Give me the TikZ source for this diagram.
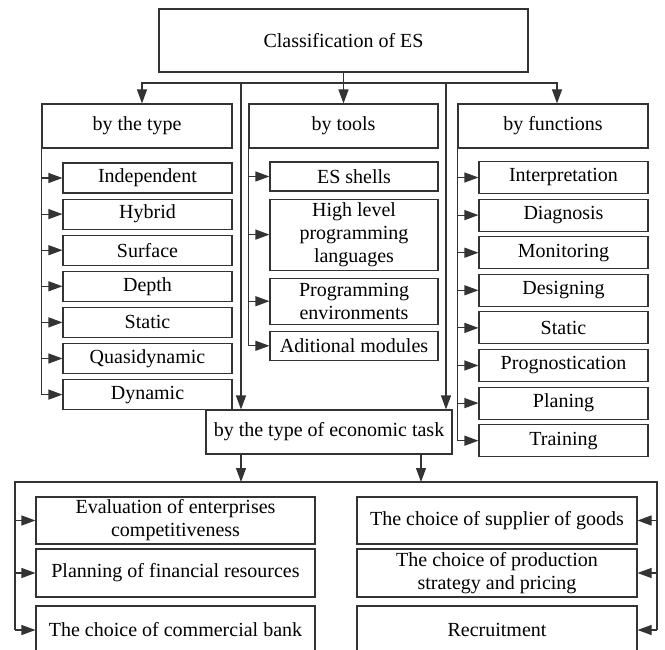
\documentclass[tikz,border=0pt]{standalone}
\usepackage{fontspec}
\setmainfont{Liberation Serif}
\usetikzlibrary{positioning,arrows.meta}
\tikzstyle{box} = [
	rectangle,
	draw = black!80,
	line width = 1.1pt,
	inner sep = 0pt,
	align = center,
	font = \fontsize{20}{23}\selectfont
	]
\tikzstyle{head} = [
	box,
	minimum width = 190pt,
	minimum height = 44pt
	]
\tikzstyle{item} = [
	box,
	minimum width = 169pt,
	minimum height = 30pt
	]
\tikzstyle{task} = [
	box,
	minimum width = 280pt,
	minimum height = 48pt
	]
\tikzstyle{link} = [
	draw = black!80,
	line width = 1.1pt
	]
\tikzstyle{arr} = [
	link,
	-{Triangle[length=14pt,width=10pt]}
	]

\begin{document}
\begin{tikzpicture}[x=1pt,y=-1pt,node distance=5pt]
		\useasboundingbox (0,0) rectangle (665,650);
		\clip (0,0) rectangle (665,650);
		\node[box,minimum width=369pt,minimum height=63pt] (cls) at (343.5,40.5) {Classification of ES};
		\node[head] (btype) at (137,126) {by the type};
		\node[head,minimum width=189pt] (btools) at (343.5,126) {by tools};
		\node[head] (bfunc) at (553,126) {by functions};
		\node[item] (ind) at (147.5,178) {Independent};
		\node[item,below=of ind] (hyb) {Hybrid};
		\node[item,below=of hyb] (srf) {Surface};
		\node[item,below=of srf] (dep) {Depth};
		\node[item,below=of dep] (sta) {Static};
		\node[item,below=of sta] (qua) {Quasidynamic};
		\node[item,below=of qua] (dyn) {Dynamic};
		\node[item,minimum width=168pt,minimum height=29pt] (shl) at (354,176.5) {ES shells};
		\node[item,minimum width=168pt,minimum height=71pt,below=7pt of shl] (hll) {High level\\programming\\languages};
		\node[item,minimum width=168pt,minimum height=46pt,below=7pt of hll] (env) {Programming\\environments};
		\node[item,minimum width=168pt,minimum height=29pt,below=6pt of env] (adm) {Aditional modules};
		\node[item,minimum height=32pt] (itp) at (563.5,177.5) {Interpretation};
		\node[item,minimum height=32pt,below=4.5pt of itp] (dia) {Diagnosis};
		\node[item,minimum height=32pt,below=4.5pt of dia] (mon) {Monitoring};
		\node[item,minimum height=32pt,below=4.5pt of mon] (dsg) {Designing};
		\node[item,minimum height=32pt,below=4.5pt of dsg] (stf) {Static};
		\node[item,minimum height=32pt,below=4.5pt of stf] (prg) {Prognostication};
		\node[item,minimum height=32pt,below=4.5pt of prg] (pln) {Planing};
		\node[item,minimum height=32pt,below=4.5pt of pln] (trn) {Training};
		\node[box,minimum width=246pt,minimum height=44pt] (econ) at (329,432) {by the type of economic task};
		\node[task,minimum width=279pt,minimum height=47pt] (eval) at (175.5,520.5) {Evaluation of enterprises\\competitiveness};
		\node[task,minimum width=279pt] (plan) at (175.5,573) {Planning of financial resources};
		\node[task,minimum width=279pt] (bank) at (175.5,630) {The choice of commercial bank};
		\node[task,minimum height=47pt] (sup) at (497,520.5) {The choice of supplier of goods};
		\node[task] (prod) at (497,573) {The choice of production\\strategy and pricing};
		\node[task] (rec) at (497,630) {Recruitment};
		\coordinate (bus) at (343.5,83);
		\coordinate (dl) at (241,83);
		\coordinate (dr) at (446,83);
		\coordinate (bl) at (15,482);
		\coordinate (br) at (657,482);
		\coordinate (er) at (421,482);
		\draw[arr] (cls) -- (btools);
		\draw[arr] (bus) -| ([xshift=5pt]btype.north);
		\draw[arr] (bus) -| ([xshift=4pt]bfunc.north);
		\draw[arr] (dl) -- (dl |- econ.north);
		\draw[arr] (dr) -- (dr |- econ.north);
		\draw[link] (btype.south west) -- (btype.south west |- dyn.west);
		\foreach \n in {ind,hyb,srf,dep,sta,qua,dyn}
			\draw[arr] (btype.south west |- \n.west) -- (\n.west);
		\draw[link] (btools.south west) -- (btools.south west |- adm.west);
		\foreach \n in {shl,hll,env,adm}
			\draw[arr] (btools.south west |- \n.west) -- (\n.west);
		\draw[link] (bfunc.south west) -- (bfunc.south west |- trn.west);
		\foreach \n in {itp,dia,mon,dsg,stf,prg,pln,trn}
			\draw[arr] (bfunc.south west |- \n.west) -- (\n.west);
		\draw[arr] (econ.south -| dl) -- (dl |- bl);
		\draw[arr] (econ.south -| er) -- (er);
		\draw[link] (bank.west -| bl) |- (br) -- (br |- rec.east);
		\foreach \n in {eval,plan,bank}
			\draw[arr] (bl |- \n.west) -- (\n.west);
		\foreach \n in {sup,prod,rec}
			\draw[arr] (br |- \n.east) -- (\n.east);
	\end{tikzpicture}
\end{document}
